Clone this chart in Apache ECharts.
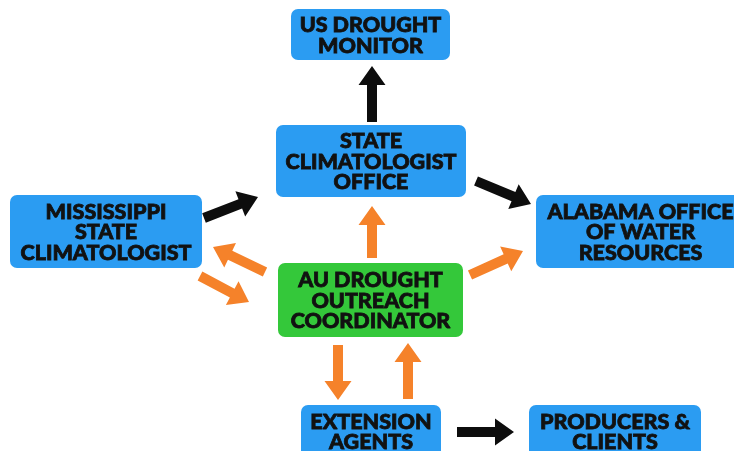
<!DOCTYPE html>
<html>
<head>
<meta charset="utf-8">
<script src="https://cdn.jsdelivr.net/npm/echarts@6/dist/echarts.min.js"></script>
<style>
html, body { margin: 0; padding: 0; background: #fff; }
#main { width: 734px; height: 451px; }
</style>
</head>
<body>
<div id="main"></div>
<script>
// boxes of the flow chart
var boxLabels = [
	'US DROUGHT\nMONITOR',
	'STATE\nCLIMATOLOGIST\nOFFICE',
	'MISSISSIPPI\nSTATE\nCLIMATOLOGIST',
	'AU DROUGHT\nOUTREACH\nCOORDINATOR',
	'ALABAMA OFFICE\nOF WATER\nRESOURCES',
	'EXTENSION\nAGENTS',
	'PRODUCERS &\nCLIENTS'
];
var boxLeft = [291, 276, 10, 278, 536, 301, 529];
var boxTop = [9, 125, 195, 263, 195, 405, 405];
var boxRight = [450, 466, 202, 463, 745, 441, 701];
var boxBottom = [60, 197, 268, 337, 268, 457, 457];
var boxKind = ['blue', 'blue', 'blue', 'green', 'blue', 'blue', 'blue'];

// arrows: start point -> tip point
var arrowFromX = [372, 204, 476, 457, 372, 265, 200, 470, 338, 408];
var arrowFromY = [122, 218, 181, 432, 258, 272, 276, 275, 345, 399];
var arrowToX = [372, 258, 531, 514, 372, 213, 249, 523, 338, 408];
var arrowToY = [66, 197, 204, 432, 206, 247, 302, 251, 400, 343];
var arrowKind = ['black', 'black', 'black', 'black', 'orange', 'orange', 'orange', 'orange', 'orange', 'orange'];

var colors = {
	blue: '#2b9cf2',
	green: '#34c83a',
	black: '#0d0d0d',
	orange: '#f5822a'
};

var boxData = [];
for (var i = 0; i < boxLabels.length; i++) {
	boxData.push([boxLeft[i], boxTop[i], boxRight[i], boxBottom[i], i]);
}
var arrowData = [];
for (var j = 0; j < arrowFromX.length; j++) {
	arrowData.push([arrowFromX[j], arrowFromY[j], arrowToX[j], arrowToY[j], j]);
}

var myChart = echarts.init(document.getElementById('main'));
var option = {
	animation: false,
	grid: { left: 0, right: 0, top: 0, bottom: 0 },
	xAxis: { type: 'value', min: 0, max: 734, show: false },
	yAxis: { type: 'value', min: 0, max: 451, inverse: true, show: false },
	series: [{
		type: 'custom',
		clip: false,
		data: boxData,
		renderItem: function(params, api) {
			var p0 = api.coord([api.value(0), api.value(1)]);
			var p1 = api.coord([api.value(2), api.value(3)]);
			var idx = api.value(4);
			return {
				type: 'group',
				children: [{
					type: 'rect',
					shape: { x: p0[0], y: p0[1], width: p1[0] - p0[0], height: p1[1] - p0[1], r: 7 },
					style: { fill: colors[boxKind[idx]] }
				}, {
					type: 'text',
					style: {
						text: boxLabels[idx],
						x: (p0[0] + p1[0]) / 2,
						y: (p0[1] + p1[1]) / 2 + 1,
						align: 'center',
						verticalAlign: 'middle',
						fontFamily: 'Lato',
						fontWeight: 900,
						fontSize: 21.5,
						lineHeight: 20.5,
						fill: '#111',
						stroke: '#111',
						lineWidth: 0.8
					}
				}]
			};
		}
	}, {
		type: 'custom',
		clip: false,
		data: arrowData,
		renderItem: function(params, api) {
			var a = api.coord([api.value(0), api.value(1)]);
			var b = api.coord([api.value(2), api.value(3)]);
			var idx = api.value(4);
			var dx = b[0] - a[0], dy = b[1] - a[1];
			var len = Math.sqrt(dx * dx + dy * dy);
			var ux = dx / len, uy = dy / len;
			var nx = -uy, ny = ux;
			var shaft = 5, head = 13.5, headLen = 19;
			var hx = b[0] - ux * headLen, hy = b[1] - uy * headLen;
			var pts = [
				[a[0] + nx * shaft, a[1] + ny * shaft],
				[hx + nx * shaft, hy + ny * shaft],
				[hx + nx * head, hy + ny * head],
				[b[0], b[1]],
				[hx - nx * head, hy - ny * head],
				[hx - nx * shaft, hy - ny * shaft],
				[a[0] - nx * shaft, a[1] - ny * shaft]
			];
			return {
				type: 'polygon',
				shape: { points: pts },
				style: { fill: colors[arrowKind[idx]] }
			};
		}
	}]
};
myChart.setOption(option);
</script>
</body>
</html>
